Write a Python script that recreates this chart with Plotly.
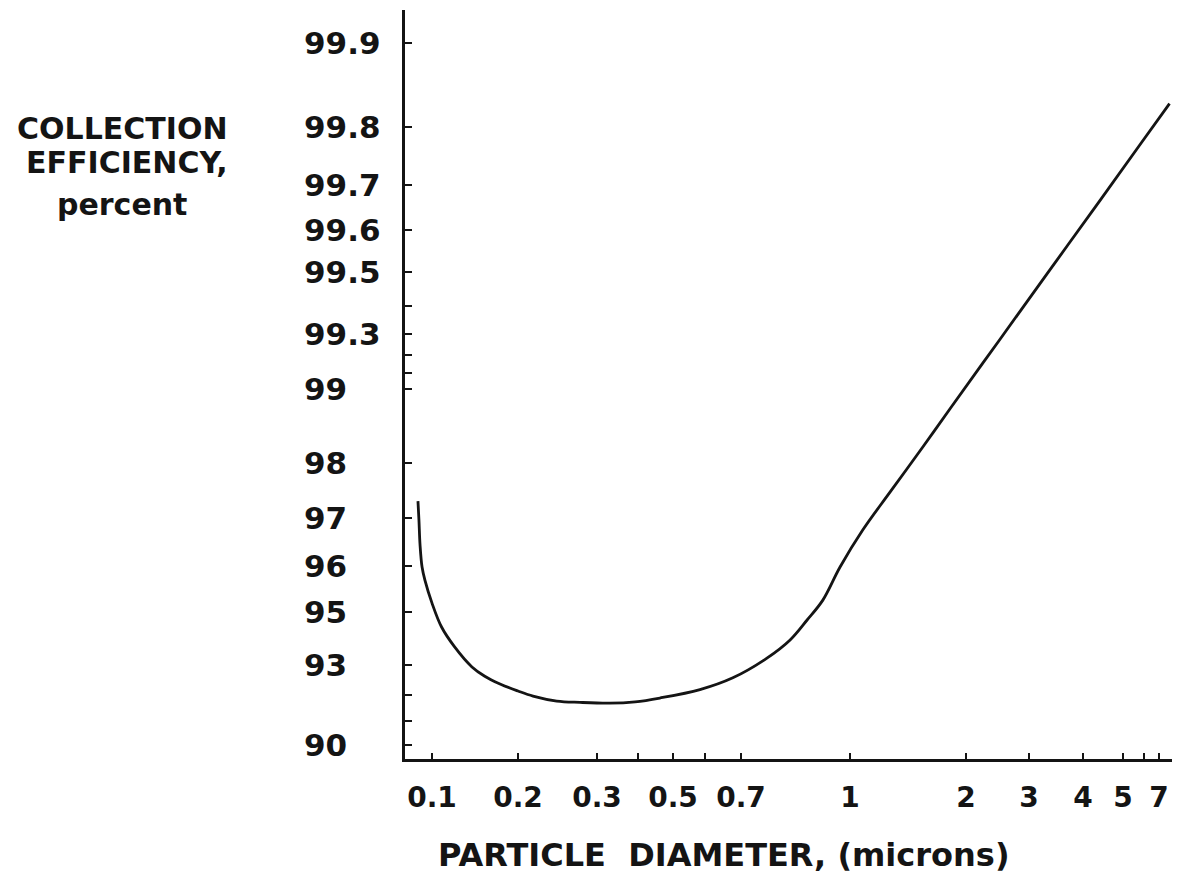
import numpy as np
import plotly.graph_objects as go

# ---------------- data ----------------
diameter_um = [0.0893, 0.0900, 0.0908, 0.0923, 0.0945, 0.100, 0.108, 0.120, 0.138, 0.153,
               0.173, 0.200, 0.216, 0.244, 0.275, 0.328, 0.392, 0.460, 0.583, 0.676,
               0.762, 0.822, 0.869, 0.915, 0.968, 1.08, 1.27, 1.55, 1.82, 2.49,
               3.35, 4.40, 5.80, 7.8]
efficiency_pct = [97.35, 96.97, 96.48, 95.98, 95.71, 95.21, 94.50, 93.76, 92.94, 92.64,
                  92.38, 92.14, 91.96, 91.78, 91.73, 91.70, 91.75, 91.89, 92.19, 92.59,
                  93.30, 94.03, 94.74, 95.28, 95.98, 96.78, 97.52, 98.29, 98.80, 99.276,
                  99.505, 99.669, 99.774, 99.835]

# x axis ticks (the printed axis is hand-graduated, not a true log scale)
x_tick_values = [0.1, 0.2, 0.3, 0.4, 0.5, 0.6, 0.7, 1, 2, 3, 4, 5, 6, 7]
x_tick_labels = ["0.1", "0.2", "0.3", "", "0.5", "", "0.7", "1", "2", "3", "4", "5", "", "7"]
# y axis ticks
y_tick_values = [90, 93, 95, 96, 97, 98, 99, 99.3, 99.5, 99.6, 99.7, 99.8, 99.9]
y_tick_labels = ["90", "93", "95", "96", "97", "98", "99", "99.3", "99.5", "99.6", "99.7", "99.8", "99.9"]
y_minor_values = [91, 92, 99.1, 99.2, 99.4]

# ---------------- custom axis scales (graduation of the printed axes) ----------------
X_SCALE_POS = [27, 113, 192, 233, 268, 300, 336, 445, 561, 624, 678, 718, 739, 754]
Y_SCALE_POS = [14, 94, 147, 193, 241, 296, 370, 425, 487, 529, 574, 632, 716]
X_LEN, Y_LEN = 775, 749


def xscale(v):
    lv = np.log10(np.asarray(v, dtype=float))
    lt = np.log10(np.asarray(x_tick_values, dtype=float))
    p = np.asarray(X_SCALE_POS, dtype=float)
    out = np.interp(lv, lt, p)
    lo = lv < lt[0]
    hi = lv > lt[-1]
    out[lo] = p[0] + (lv[lo] - lt[0]) * (p[1] - p[0]) / (lt[1] - lt[0])
    out[hi] = p[-1] + (lv[hi] - lt[-1]) * (p[-1] - p[-2]) / (lt[-1] - lt[-2])
    return out


def yscale(v):
    t = -np.log10(100 - np.asarray(v, dtype=float))
    tt = -np.log10(100 - np.asarray(y_tick_values, dtype=float))
    return np.interp(t, tt, np.asarray(Y_SCALE_POS, dtype=float))


FONT = "DejaVu Sans"
INK = "#141414"
AX_X, AX_Y_TOP, AX_Y_BOT = 405, 10, 759   # page pixel anchors used for text offsets

fig = go.Figure()
fig.add_trace(go.Scatter(
    x=xscale(diameter_um), y=yscale(efficiency_pct), mode="lines",
    line=dict(color=INK, width=2.8, shape="spline", smoothing=1.0),
    hoverinfo="skip", showlegend=False))

y_all_ticks = list(yscale(y_tick_values)) + list(yscale(y_minor_values))

fig.update_layout(
    width=1172, height=875,
    margin=dict(l=397, r=0, t=2, b=124),
    paper_bgcolor="white", plot_bgcolor="white",
    showlegend=False,
    xaxis=dict(range=[0, X_LEN], showgrid=False, zeroline=False,
               showline=True, linecolor=INK, linewidth=2.5,
               tickmode="array", tickvals=list(xscale(x_tick_values)), ticktext=x_tick_labels,
               ticks="inside", ticklen=6, tickwidth=2, tickcolor=INK,
               ticklabelstandoff=12,
               tickfont=dict(family=FONT, size=28, color=INK, weight="bold")),
    yaxis=dict(range=[0, Y_LEN], showgrid=False, zeroline=False,
               showline=True, linecolor=INK, linewidth=2.5,
               tickmode="array", tickvals=y_all_ticks,
               showticklabels=False,
               ticks="inside", ticklen=7, tickwidth=1.6, tickcolor=INK),
)

# y tick labels (left-aligned as printed)
for v, lab in zip(y_tick_values, y_tick_labels):
    fig.add_annotation(x=0, xref="paper", xshift=-103, xanchor="left",
                       y=float(yscale([v])[0]), yref="y", yanchor="middle",
                       text=lab, showarrow=False,
                       font=dict(family=FONT, size=31, color=INK, weight="bold"))

# y axis title (three lines)
for txt, cx, cy in [("COLLECTION", 122, 128), ("EFFICIENCY,", 127, 162), ("percent", 122, 204)]:
    fig.add_annotation(x=0, xref="paper", xshift=cx - AX_X, xanchor="center",
                       y=1, yref="paper", yshift=-(cy - AX_Y_TOP), yanchor="middle",
                       text=txt, showarrow=False,
                       font=dict(family=FONT, size=30, color=INK, weight="bold"))

# x axis title
fig.add_annotation(x=0, xref="paper", xshift=724 - AX_X, xanchor="center",
                   y=0, yref="paper", yshift=-(855 - AX_Y_BOT), yanchor="middle",
                   text="PARTICLE&nbsp;&nbsp;DIAMETER, (microns)", showarrow=False,
                   font=dict(family=FONT, size=32, color=INK, weight="bold"))

fig.write_html("out.html")
